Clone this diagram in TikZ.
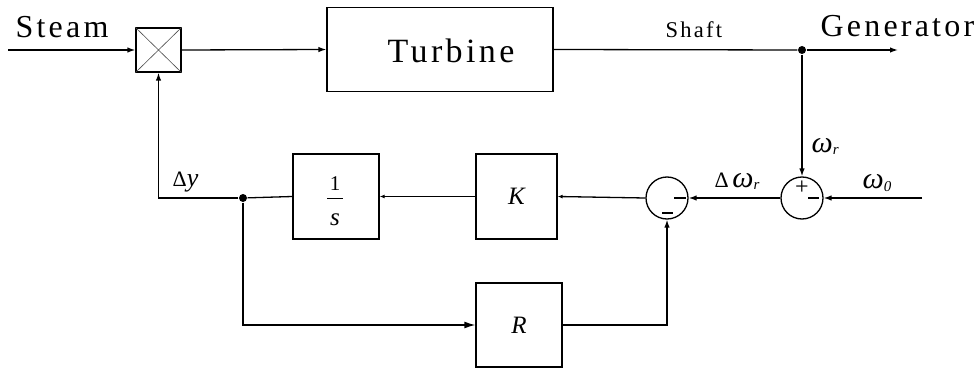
\documentclass[tikz,border=0pt]{standalone}
\usepackage{fontspec}
\setmainfont{Liberation Serif}
\newfontfamily\spacedfont[LetterSpace=10]{Liberation Serif}
\usetikzlibrary{arrows.meta}

% subscripted italic symbol: base, subscript, size
\newcommand{\symsub}[3]{{\fontsize{#3}{#3}\selectfont\itshape #1}\raisebox{-0.35\height}{\fontsize{0.5\dimexpr#3pt\relax}{1pt}\selectfont\itshape #2}}

\begin{document}
\begin{tikzpicture}[x=1pt,y=-1pt,
  line width=1.3pt,
  blk/.style={draw, rectangle, inner sep=0pt},
  sumc/.style={draw, circle, minimum size=42pt, inner sep=0pt},
  jdot/.style={fill, circle, minimum size=8pt, inner sep=0pt},
  arr/.style={-{Latex[length=8pt,width=5.5pt]}},
  sarr/.style={-{Latex[length=5pt,width=4pt]}},
  sign/.style={line width=1.4pt},
  lbl/.style={inner sep=0pt, anchor=base west},
  bigtxt/.style={font=\spacedfont\fontsize{32}{32}\selectfont},
]
\useasboundingbox (0,0) rectangle (978,369);

% blocks
\node[blk, minimum width=45pt, minimum height=44pt] (mult) at (158.5,50) {};
\draw[line width=0.6pt, black!70] (mult.north west) -- (mult.south east)
      (mult.north east) -- (mult.south west);
\node[blk, minimum width=226pt, minimum height=84pt] (turb) at (440,49.5) {};
\node[blk, minimum width=86pt, minimum height=85pt] (integ) at (336,196.5) {};
\node[blk, minimum width=81pt, minimum height=85pt] (kbox) at (516.5,196.5) {};
\node[blk, minimum width=86pt, minimum height=84pt] (rbox) at (519,325) {};
\node[sumc] (sumA) at (802,198) {};
\node[sumc] (sumB) at (667,198) {};
\node[jdot] (dotA) at (802,50) {};
\node[jdot] (dotB) at (243,198) {};

\coordinate (steamin) at (8,50);
\coordinate (genout) at (898,50);
\coordinate (wzero) at (922,198);
\coordinate (corner) at (158.5,198);

% block contents
\node[lbl, font=\spacedfont\fontsize{34}{34}\selectfont] at (387,63) {Turbine};
\node[font=\fontsize{25}{25}\selectfont\itshape] at (kbox.center) {K};
\node[font=\fontsize{25}{25}\selectfont\itshape] at (rbox.center) {R};
\node[inner sep=0pt, font=\fontsize{21}{21}\selectfont] at (335,183.5) {1};
\draw[line width=0.9pt] (327,198) -- (343,198);
\node[inner sep=0pt, font=\fontsize{25}{25}\selectfont\itshape] at (335,220) {s};

% summing signs
\node[inner sep=0pt, font=\fontsize{24}{24}\selectfont] at (802,188) {+};
\draw[sign] (808,198) -- (819,198);
\draw[sign] (674,198) -- (686,198);
\draw[sign] (662,213) -- (673,213);

% forward path
\draw[arr] (steamin) -- (mult.west);
\draw[arr] (mult.east) -- (turb.west);
\draw (turb.east) -- (dotA);
\draw[arr] (dotA) -- (genout);
\draw[arr] (dotA) -- (sumA.north);
\draw[arr] (wzero) -- (sumA.east);
\draw[arr] (sumA.west) -- (sumB.east);
\draw[sarr] (sumB.west) -- (kbox.east);
\draw[sarr] (kbox.west) -- (integ.east);
\draw (integ.west) -- (dotB);
\draw[arr] (dotB) -- (corner) -- (mult.south);
\draw[-{Latex[length=11pt,width=7pt]}] (dotB) |- (rbox.west);
\draw[arr] (rbox.east) -| (sumB.south);

% signal labels
\node[lbl, bigtxt] at (15,38) {Steam};
\node[lbl, bigtxt] at (820,37) {Generator};
\node[lbl, font=\spacedfont\fontsize{22.5}{22.5}\selectfont] at (665,38) {Shaft};
\node[lbl] at (811,152) {\symsub{ω}{r}{30}};
\node[lbl] at (862,188) {\symsub{ω}{0}{30}};
\node[lbl] at (714,187) {{\fontsize{22}{22}\selectfont Δ\,}\symsub{ω}{r}{30}};
\node[lbl] at (172,186) {{\fontsize{22}{22}\selectfont Δ}{\fontsize{26}{26}\selectfont\itshape y}};
\end{tikzpicture}
\end{document}
